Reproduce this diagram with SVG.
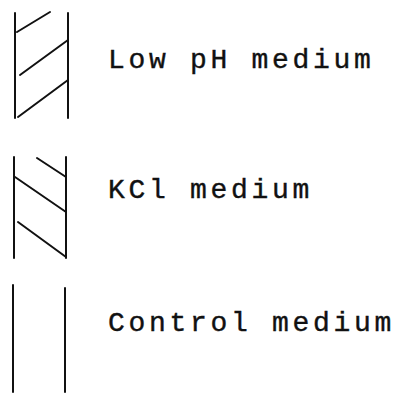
<svg xmlns="http://www.w3.org/2000/svg" width="402" height="394" viewBox="0 0 402 394">
<style>
.l{stroke:#111;stroke-width:2;fill:none;stroke-linecap:round}
.t{font-family:"Liberation Mono","Courier New",monospace;font-size:28px;letter-spacing:3.7px;fill:#111;stroke:#111;stroke-width:0.4}
</style>
<rect width="402" height="394" fill="#fff"/>
<g id="low-ph">
<line class="l" x1="15" y1="13" x2="15" y2="118"/>
<line class="l" x1="68" y1="13" x2="68" y2="118"/>
<line class="l" x1="17" y1="32" x2="50" y2="12"/>
<line class="l" x1="20" y1="75" x2="68" y2="40"/>
<line class="l" x1="18" y1="117" x2="68" y2="80"/>
<text class="t" x="108" y="68">Low pH medium</text>
</g>
<g id="kcl">
<line class="l" x1="14" y1="157" x2="14" y2="258"/>
<line class="l" x1="66" y1="157" x2="66" y2="258"/>
<line class="l" x1="37" y1="158" x2="66" y2="177"/>
<line class="l" x1="15" y1="177" x2="66" y2="212"/>
<line class="l" x1="18" y1="222" x2="66" y2="257"/>
<text class="t" x="108" y="198">KCl medium</text>
</g>
<g id="control">
<line class="l" x1="13" y1="285" x2="13" y2="392"/>
<line class="l" x1="65" y1="288" x2="65" y2="392"/>
<text class="t" x="108" y="331">Control medium</text>
</g>
</svg>
